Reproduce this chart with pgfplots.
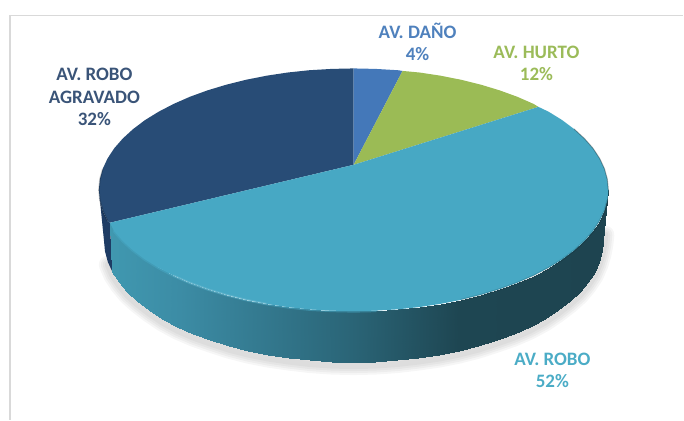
\documentclass[border=0pt]{standalone}
\usepackage{pgfplots}
\pgfplotsset{compat=1.18}
\usepackage{fontspec}
\setmainfont{Carlito}
\definecolor{cdano}{RGB}{68,120,185}
\definecolor{churto}{RGB}{155,187,85}
\definecolor{crobo}{RGB}{71,168,196}
\definecolor{cagrav}{RGB}{40,76,118}
\definecolor{cagravside}{RGB}{30,60,100}
\definecolor{tdano}{RGB}{79,129,189}
\definecolor{thurto}{RGB}{155,187,89}
\definecolor{trobo}{RGB}{75,172,198}
\definecolor{tagrav}{RGB}{58,84,120}

% lower rim of the disc, used for the soft shadow
\pgfplotstableread{
x y
606 235
605 245
603 255
600.1 265
595.4 276
588.8 286
580.5 296
570.4 305
558.7 314
545.4 323
530.7 331
514.6 338
497.4 344
479 350
459.6 355
439.5 359
418.7 362
397.4 364.5
375.8 366
354 366.5
332.2 366
310.6 364.5
289.3 362
268.5 359
248.4 355
229 350
210.6 344
193.4 338
177.3 331
162.6 323
149.3 314
137.6 305
127.5 296
119.2 286
112.6 276
107.9 265
}\rimtable

\begin{document}
\begin{tikzpicture}
\begin{axis}[
    scale only axis,
    width=684pt,
    height=420pt,
    xmin=0, xmax=684,
    ymin=0, ymax=420,
    y dir=reverse,
    view={0}{90},
    hide axis,
    clip=false,
    colormap={side}{rgb255(0cm)=(64,152,176); rgb255(14cm)=(60,140,165); rgb255(49cm)=(42,100,118); rgb255(70cm)=(30,70,82); rgb255(100cm)=(30,68,80)},
    point meta min=110,
    point meta max=609,
]
% keeps the page at the full size of the axis
\path (axis cs:0,0) rectangle (axis cs:684,420);

% chart frame
\addplot[draw=black!15,line width=1.5pt] coordinates {(10,420) (10,15.5) (684,15.5)};

% shadow
\addplot[draw=black,opacity=0.035,line width=18pt,line join=round,line cap=round] table {\rimtable};
\addplot[draw=black,opacity=0.035,line width=14pt,line join=round,line cap=round] table {\rimtable};
\addplot[draw=black,opacity=0.035,line width=10pt,line join=round,line cap=round] table {\rimtable};
\addplot[draw=black,opacity=0.035,line width=6pt,line join=round,line cap=round] table {\rimtable};

% side of the dark slice
\addplot[fill=cagravside,draw=none] coordinates {(99,190) (100,200.6) (102.9,211.1) (107.7,221.4) (110,223) (112.6,272.4) (107.9,262.1) (105.1,251.6) (104.1,241)} -- cycle;

% side of the big slice
\addplot3[surf,shader=interp,mesh/rows=2,point meta=x] coordinates {
(110,223,0) (114.4,231.6,0) (122.9,241.3,0) (133.2,250.75,0) (145.1,259.7,0) (158.7,268.1,0) (173.7,275.9,0) (190.1,283.1,0) (207.7,289.5,0) (226.5,295.2,0) (246.2,300.1,0) (266.8,304.2,0) (288,307.4,0) (309.7,309.7,0) (331.8,311,0) (354,311.5,0) (376.2,311,0) (398.3,309.7,0) (420,307.4,0) (441.2,304.2,0) (461.8,300.1,0) (481.5,295.2,0) (500.3,289.5,0) (517.9,283.1,0) (534.3,275.9,0) (549.3,268.1,0) (562.9,259.7,0) (574.8,250.75,0) (585.1,241.3,0) (593.6,231.6,0) (600.3,221.4,0) (605.1,211.1,0) (608,200.6,0) (609,190,0)

(112.6,272.4,0) (119.2,282.6,0) (127.5,292.3,0) (137.6,301.75,0) (149.3,310.7,0) (162.6,319.1,0) (177.3,326.9,0) (193.4,334.1,0) (210.6,340.5,0) (229,346.2,0) (248.4,351.1,0) (268.5,355.2,0) (289.3,358.4,0) (310.6,360.7,0) (332.2,362,0) (354,362.5,0) (375.8,362,0) (397.4,360.7,0) (418.7,358.4,0) (439.5,355.2,0) (459.6,351.1,0) (479,346.2,0) (497.4,340.5,0) (514.6,334.1,0) (530.7,326.9,0) (545.4,319.1,0) (558.7,310.7,0) (570.4,301.75,0) (580.5,292.3,0) (588.8,282.6,0) (595.4,272.4,0) (600.1,262.1,0) (602.9,251.6,0) (603.9,241,0)
};

% top faces
\addplot[fill=cagrav,draw=none] coordinates {(354,165) (110,223) (107.7,221.4) (102.9,211.1) (100,200.6) (99,190) (100,179.4) (102.9,168.9) (107.7,158.6) (114.4,148.4) (122.9,138.7) (133.2,129.25) (145.1,120.3) (158.7,111.9) (173.7,104.1) (190.1,96.9) (207.7,90.5) (226.5,84.8) (246.2,79.9) (266.8,75.8) (288,72.6) (309.7,70.3) (331.8,69) (354,68.5)} -- cycle;
\addplot[fill=cdano,draw=none] coordinates {(354,165) (354,68.5) (376.2,69) (398.3,70.3) (403,71)} -- cycle;
\addplot[fill=churto,draw=none] coordinates {(354,165) (403,71) (420,72.6) (441.2,75.8) (461.8,79.9) (481.5,84.8) (500.3,90.5) (517.9,96.9) (534.3,104.1) (539,107)} -- cycle;
\addplot[fill=crobo,draw=none] coordinates {(354,165) (539,107) (549.3,111.9) (562.9,120.3) (574.8,129.25) (585.1,138.7) (593.6,148.4) (600.3,158.6) (605.1,168.9) (608,179.4) (609,190) (608,200.6) (605.1,211.1) (600.3,221.4) (593.6,231.6) (585.1,241.3) (574.8,250.75) (562.9,259.7) (549.3,268.1) (534.3,275.9) (517.9,283.1) (500.3,289.5) (481.5,295.2) (461.8,300.1) (441.2,304.2) (420,307.4) (398.3,309.7) (376.2,311) (354,311.5) (331.8,311) (309.7,309.7) (288,307.4) (266.8,304.2) (246.2,300.1) (226.5,295.2) (207.7,289.5) (190.1,283.1) (173.7,275.9) (158.7,268.1) (145.1,259.7) (133.2,250.75) (122.9,241.3) (114.4,231.6) (110,223)} -- cycle;

% bevel: highlight at the lower left, dark edge at the right
\addplot[draw=crobo,opacity=0.5,line width=3pt,line cap=round] coordinates {(114.4,231.6) (122.9,241.3) (133.2,250.75) (145.1,259.7) (158.7,268.1) (173.7,275.9) (190.1,283.1) (207.7,289.5) (226.5,295.2) (246.2,300.1) (266.8,304.2) (288,307.4) (309.7,309.7) (331.8,311) (354,311.5) (376.2,311)};
\addplot[draw=white,opacity=0.12,line width=2pt,line cap=round] coordinates {(173.7,275.9) (190.1,283.1) (207.7,289.5) (226.5,295.2) (246.2,300.1) (266.8,304.2)};
\addplot[draw=black,opacity=0.3,line width=1pt,line cap=round] coordinates {(574.8,129.25) (585.1,138.7) (593.6,148.4) (600.3,158.6) (605.1,168.9) (608,179.4) (609,190)};
\addplot[draw=black,opacity=0.12,line width=2pt,line cap=round] coordinates {(461.8,300.1) (481.5,295.2) (500.3,289.5) (517.9,283.1) (534.3,275.9) (549.3,268.1) (562.9,259.7) (574.8,250.75) (585.1,241.3) (593.6,231.6) (600.3,221.4) (605.1,211.1) (608,200.6)};
\addplot[draw=black,opacity=0.18,line width=1.5pt] coordinates {(107.7,221.4) (102.9,211.1) (100,200.6) (99,190) (100,179.4) (102.9,168.9)};

% labels
\node[text=tdano,font=\fontsize{19}{22.5}\selectfont\bfseries,align=center] at (axis cs:418,42) {AV. DAÑO\\4\%};
\node[text=thurto,font=\fontsize{19}{22.5}\selectfont\bfseries,align=center] at (axis cs:537,63.5) {AV. HURTO\\12\%};
\node[text=tagrav,font=\fontsize{19}{22.5}\selectfont\bfseries,align=center] at (axis cs:94.5,97) {AV. ROBO\\AGRAVADO\\32\%};
\node[text=trobo,font=\fontsize{19}{22.5}\selectfont\bfseries,align=center] at (axis cs:553,371) {AV. ROBO\\52\%};
\end{axis}
\end{tikzpicture}
\end{document}
